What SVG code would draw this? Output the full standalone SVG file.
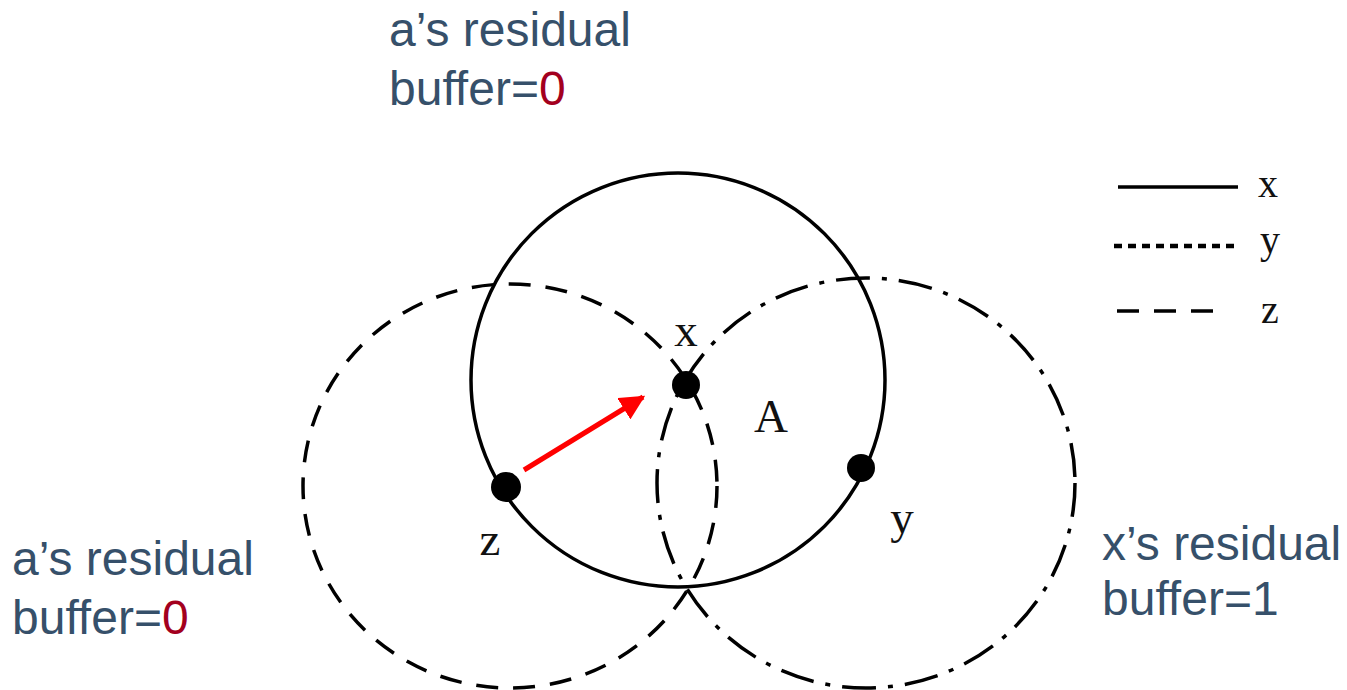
<svg xmlns="http://www.w3.org/2000/svg" width="1347" height="690" viewBox="0 0 1347 690">
  <defs>
    <style>
      .cap { font-family: "Liberation Sans", Arial, sans-serif; font-size: 48px; fill: #36506a; }
      .red { fill: #a3001e; }
      .lbl { font-family: "Liberation Serif", "Times New Roman", serif; font-size: 40px; fill: #111; }
      .big { font-size: 47px; }
      .solid { fill: none; stroke: #000; stroke-width: 3.5; }
      .dash { fill: none; stroke: #000; stroke-width: 3.5; stroke-dasharray: 22 15; }
      .dashdot { fill: none; stroke: #000; stroke-width: 3.5; stroke-dasharray: 34 12 5 12; }
      .dot { fill: none; stroke: #000; stroke-width: 4.5; stroke-dasharray: 8 6; }
      .node { fill: #000; }
    </style>
    <marker id="arr" viewBox="0 0 10 10" refX="9" refY="5" markerWidth="5" markerHeight="5" orient="auto" markerUnits="strokeWidth">
      <path d="M0,0 L10,5 L0,10 Z" fill="#f00"/>
    </marker>
  </defs>
  <rect width="1347" height="690" fill="#fff"/>

  <g id="ranges">
    <ellipse id="range-x" class="solid" cx="678" cy="380" rx="207" ry="207"/>
    <ellipse id="range-z" class="dash" cx="510" cy="486" rx="207" ry="202"/>
    <ellipse id="range-y" class="dashdot" cx="866" cy="483" rx="209" ry="205"/>
  </g>

  <g id="connectors">
    <line x1="524" y1="470" x2="643" y2="397" stroke="#f00" stroke-width="5" marker-end="url(#arr)"/>
  </g>

  <g id="node-x">
    <circle class="node" cx="686" cy="385" r="14"/>
    <text class="lbl big" x="686" y="346" text-anchor="middle">x</text>
  </g>
  <g id="node-z">
    <circle class="node" cx="506" cy="487" r="15"/>
    <text class="lbl big" x="490" y="555" text-anchor="middle">z</text>
  </g>
  <g id="node-y">
    <circle class="node" cx="861" cy="468" r="14"/>
    <text class="lbl big" x="902" y="533" text-anchor="middle">y</text>
  </g>
  <g id="label-A">
    <text class="lbl big" x="771" y="432" text-anchor="middle">A</text>
  </g>

  <g id="legend">
    <line class="solid" x1="1118" y1="187" x2="1238" y2="187" stroke-width="4.5"/>
    <text class="lbl" x="1268" y="197" text-anchor="middle">x</text>
    <line class="dot" x1="1114" y1="246" x2="1240" y2="246"/>
    <text class="lbl" x="1270" y="253" text-anchor="middle">y</text>
    <line class="dash" x1="1117" y1="311" x2="1220" y2="311" stroke-width="4.5" stroke-dasharray="19 21"/>
    <text class="lbl" x="1270" y="323" text-anchor="middle">z</text>
  </g>

  <g id="caption-top">
    <text class="cap" x="389" y="46">a’s residual</text>
    <text class="cap" x="389" y="105">buffer=<tspan class="red">0</tspan></text>
  </g>
  <g id="caption-left">
    <text class="cap" x="12" y="575">a’s residual</text>
    <text class="cap" x="12" y="634">buffer=<tspan class="red">0</tspan></text>
  </g>
  <g id="caption-right">
    <text class="cap" x="1102" y="560">x’s residual</text>
    <text class="cap" x="1102" y="615">buffer=1</text>
  </g>
</svg>
